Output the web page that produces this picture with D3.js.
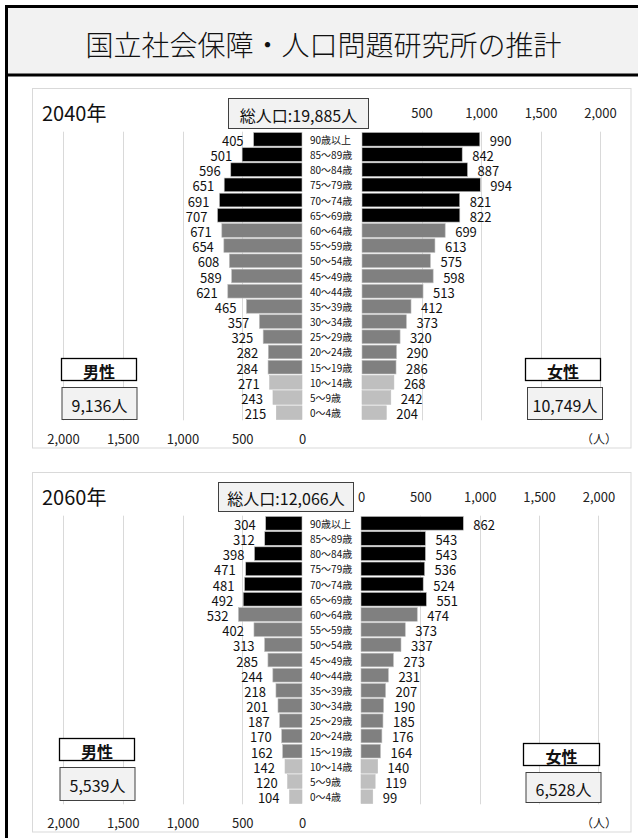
<!DOCTYPE html>
<html lang="ja">
<head>
<meta charset="utf-8">
<script src="https://cdn.jsdelivr.net/npm/d3@7"></script>
<style>
  html, body { margin: 0; padding: 0; background: #fff; }
  svg { display: block; }
  text { font-family: "Noto Sans CJK JP", "Noto Sans", sans-serif; }
</style>
</head>
<body>
<svg id="chart" width="638" height="838"></svg>
<script>
// Age groups, oldest first (top row of the pyramid)
const ageGroups = ["90歳以上", "85～89歳", "80～84歳", "75～79歳", "70～74歳", "65～69歳",
  "60～64歳", "55～59歳", "50～54歳", "45～49歳", "40～44歳", "35～39歳", "30～34歳",
  "25～29歳", "20～24歳", "15～19歳", "10～14歳", "5～9歳", "0～4歳"];

// Projected population (persons), same order as ageGroups
const male2040   = [405, 501, 596, 651, 691, 707, 671, 654, 608, 589, 621, 465, 357, 325, 282, 284, 271, 243, 215];
const female2040 = [990, 842, 887, 994, 821, 822, 699, 613, 575, 598, 513, 412, 373, 320, 290, 286, 268, 242, 204];
const male2060   = [304, 312, 398, 471, 481, 492, 532, 402, 313, 285, 244, 218, 201, 187, 170, 162, 142, 120, 104];
const female2060 = [862, 543, 543, 536, 524, 551, 474, 373, 337, 273, 231, 207, 190, 185, 176, 164, 140, 119, 99];

const yearLabels   = ["2040年", "2060年"];
const totalLabels  = ["19,885", "12,066"];
const maleTotals   = ["9,136", "5,539"];
const femaleTotals = ["10,749", "6,528"];

const axisTicks = [0, 500, 1000, 1500, 2000];
const titleText = "国立社会保障・人口問題研究所の推計";

// Panel layout
const panels = [
  { male: male2040, female: female2040, top: 88, femZero: 362, femMax: 600,
    totalBox: [228, 98, 140, 30], maleBox: [61, 358, 75, 22], maleCnt: [61.5, 387, 75, 32],
    femBox: [525, 358, 75, 22], femCnt: [527, 387, 75, 32] },
  { male: male2060, female: female2060, top: 472, femZero: 361, femMax: 598.4,
    totalBox: [218, 482, 135, 29], maleBox: [59, 738, 75, 22], maleCnt: [59.5, 767, 75, 33],
    femBox: [523, 743, 76, 22], femCnt: [525.5, 772, 75, 30] }
];

const svg = d3.select("#chart");
const fmt = d3.format(",");
const barColor = i => i < 6 ? "#000000" : (i < 16 ? "#808080" : "#bfbfbf");

// Header frame
svg.append("rect").attr("x", 6.5).attr("y", 6.5).attr("width", 640).attr("height", 68.5)
  .attr("fill", "#f2f2f2").attr("stroke", "#000").attr("stroke-width", 3);
svg.append("line").attr("x1", 6.5).attr("x2", 6.5).attr("y1", 75).attr("y2", 840)
  .attr("stroke", "#000").attr("stroke-width", 3);
svg.append("text").attr("x", 323.5).attr("y", 44).attr("text-anchor", "middle")
  .attr("dominant-baseline", "central").attr("font-size", 28).attr("font-weight", 300)
  .attr("fill", "#111").text(titleText);

panels.forEach((p, k) => {
  const g = svg.append("g");
  const plotTop = p.top + 43.7;
  const band = 15.19;
  const plotBottom = plotTop + band * ageGroups.length;

  g.append("rect").attr("x", 32.5).attr("y", p.top + 0.5).attr("width", 598.5).attr("height", 359.5)
    .attr("fill", "#fff").attr("stroke", "#d9d9d9").attr("stroke-width", 1);

  const xM = d3.scaleLinear().domain([0, 2000]).range([302, 63]);
  const xF = d3.scaleLinear().domain([0, 2000]).range([p.femZero, p.femMax]);
  const y = d3.scaleBand().domain(ageGroups).range([plotTop, plotBottom]).paddingInner(0.1).paddingOuter(0.05);

  // Gridlines
  g.selectAll(".gm").data(axisTicks.filter(v => v > 0)).join("line")
    .attr("x1", d => Math.round(xM(d)) + 0.5).attr("x2", d => Math.round(xM(d)) + 0.5)
    .attr("y1", plotTop).attr("y2", plotBottom).attr("stroke", "#d9d9d9");
  g.selectAll(".gf").data(axisTicks.filter(v => v > 0)).join("line")
    .attr("x1", d => Math.round(xF(d)) + 0.5).attr("x2", d => Math.round(xF(d)) + 0.5)
    .attr("y1", plotTop).attr("y2", plotBottom).attr("stroke", "#d9d9d9");

  // Axes: male along the bottom, female along the top
  const axM = g.append("g").attr("transform", `translate(0,${p.top + 350})`)
    .call(d3.axisBottom(xM).tickValues(axisTicks).tickFormat(fmt).tickSize(0).tickPadding(0));
  const axF = g.append("g").attr("transform", `translate(0,${p.top + 24})`)
    .call(d3.axisTop(xF).tickValues(axisTicks).tickFormat(fmt).tickSize(0).tickPadding(0));
  [axM, axF].forEach(ax => {
    ax.select(".domain").remove();
    ax.selectAll("text").attr("font-family", "Noto Sans CJK JP").attr("font-size", 13)
      .attr("fill", "#222").attr("dy", null).attr("y", 0).attr("dominant-baseline", "central");
  });
  g.append("text").attr("x", 599).attr("y", p.top + 350).attr("text-anchor", "middle")
    .attr("dominant-baseline", "central").attr("font-size", 12).attr("fill", "#222").text("（人）");

  // Male bars
  const yc = d => y(d) + y.bandwidth() / 2;
  g.selectAll(".bm").data(p.male).join("rect")
    .attr("x", d => xM(d)).attr("y", (d, i) => y(ageGroups[i]))
    .attr("width", d => xM(0) - xM(d)).attr("height", y.bandwidth())
    .attr("fill", (d, i) => barColor(i)).attr("stroke", "#bfbfbf").attr("stroke-width", 0.6);
  g.selectAll(".lm").data(p.male).join("text")
    .attr("x", d => xM(d) - 10).attr("y", (d, i) => yc(ageGroups[i]) + 1)
    .attr("text-anchor", "end").attr("dominant-baseline", "central")
    .attr("font-size", 13).attr("fill", "#111").text(d => d);

  // Female bars
  g.selectAll(".bf").data(p.female).join("rect")
    .attr("x", xF(0)).attr("y", (d, i) => y(ageGroups[i]))
    .attr("width", d => xF(d) - xF(0)).attr("height", y.bandwidth())
    .attr("fill", (d, i) => barColor(i)).attr("stroke", "#bfbfbf").attr("stroke-width", 0.6);
  g.selectAll(".lf").data(p.female).join("text")
    .attr("x", d => xF(d) + 10).attr("y", (d, i) => yc(ageGroups[i]) + 1)
    .attr("text-anchor", "start").attr("dominant-baseline", "central")
    .attr("font-size", 13).attr("fill", "#111").text(d => d);

  // Age group labels between the two halves
  g.selectAll(".age").data(ageGroups).join("text")
    .attr("x", 310).attr("y", d => yc(d))
    .attr("dominant-baseline", "central").attr("font-size", 10).attr("fill", "#111")
    .text(d => d);

  // Year heading
  g.append("text").attr("x", 42).attr("y", p.top + 33).attr("font-size", 20).attr("fill", "#111")
    .text(yearLabels[k]);

  // Boxed captions
  const box = (r, fill, stroke, sw, label, size, weight) => {
    g.append("rect").attr("x", r[0] + 0.5).attr("y", r[1] + 0.5).attr("width", r[2]).attr("height", r[3])
      .attr("fill", fill).attr("stroke", stroke).attr("stroke-width", sw);
    g.append("text").attr("x", r[0] + 0.5 + r[2] / 2).attr("y", r[1] + 0.5 + r[3] / 2 + 1)
      .attr("text-anchor", "middle").attr("dominant-baseline", "central")
      .attr("font-size", size).attr("font-weight", weight).attr("fill", "#111").text(label);
  };
  box(p.totalBox, "#f2f2f2", "#404040", 1, "総人口:" + totalLabels[k] + "人", 16, 400);
  box(p.maleBox, "#fff", "#000", 1.3, "男性", 16, 700);
  box(p.maleCnt, "#f2f2f2", "#404040", 1, maleTotals[k] + "人", 16, 400);
  box(p.femBox, "#fff", "#000", 1.3, "女性", 16, 700);
  box(p.femCnt, "#f2f2f2", "#404040", 1, femaleTotals[k] + "人", 16, 400);
});
</script>
</body>
</html>
